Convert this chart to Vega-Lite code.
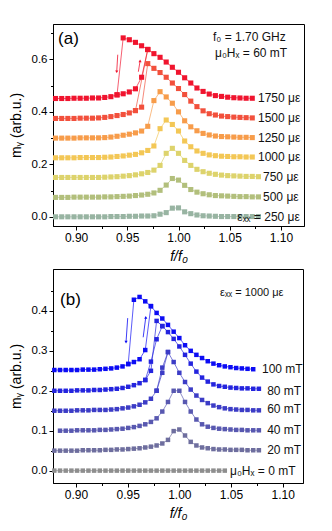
{
  "$schema": "https://vega.github.io/schema/vega-lite/v6.json",
  "padding": {"left": 8, "top": 23, "right": 0, "bottom": 0},
  "spacing": 4,
  "background": "white",
  "config": {
    "font": "Liberation Sans",
    "view": {"stroke": "#000", "strokeWidth": 1},
    "axis": {"labelFont": "Liberation Sans", "labelFontSize": 11.5, "labelColor": "#000", "titleFont": "Liberation Sans", "titleFontSize": 14, "titleFontWeight": "normal", "titleColor": "#000", "tickColor": "#000", "domainColor": "#000", "grid": false, "labelPadding": 2}
  },
  "datasets": {
    "a": [
      {"s":"250","b":"m","f":0.880,"m":0},{"s":"250","b":"m","f":0.886,"m":0},{"s":"250","b":"m","f":0.892,"m":0},{"s":"250","b":"m","f":0.898,"m":0},{"s":"250","b":"m","f":0.904,"m":0},{"s":"250","b":"m","f":0.910,"m":0},{"s":"250","b":"m","f":0.916,"m":0},{"s":"250","b":"m","f":0.922,"m":0},{"s":"250","b":"m","f":0.928,"m":0},{"s":"250","b":"m","f":0.934,"m":0.001},{"s":"250","b":"m","f":0.940,"m":0.001},{"s":"250","b":"m","f":0.946,"m":0.001},{"s":"250","b":"m","f":0.952,"m":0.002},{"s":"250","b":"m","f":0.958,"m":0.002},{"s":"250","b":"m","f":0.964,"m":0.003},{"s":"250","b":"m","f":0.970,"m":0.003},{"s":"250","b":"m","f":0.976,"m":0.004},{"s":"250","b":"m","f":0.982,"m":0.010},{"s":"250","b":"m","f":0.988,"m":0.016},{"s":"250","b":"m","f":0.994,"m":0.033},{"s":"250","b":"m","f":1.000,"m":0.034},{"s":"250","b":"m","f":1.006,"m":0.019},{"s":"250","b":"m","f":1.012,"m":0.012},{"s":"250","b":"m","f":1.018,"m":0.007},{"s":"250","b":"m","f":1.024,"m":0.004},{"s":"250","b":"m","f":1.030,"m":0.003},{"s":"250","b":"m","f":1.036,"m":0.002},{"s":"250","b":"m","f":1.042,"m":0.001},{"s":"250","b":"m","f":1.048,"m":0.001},{"s":"250","b":"m","f":1.054,"m":0.001},{"s":"250","b":"m","f":1.060,"m":0.001},{"s":"250","b":"m","f":1.066,"m":0.001},{"s":"250","b":"m","f":1.072,"m":0.001},{"s":"250","b":"m","f":1.078,"m":0.001},
      {"s":"500","b":"m","f":0.880,"m":0.074},{"s":"500","b":"m","f":0.886,"m":0.074},{"s":"500","b":"m","f":0.892,"m":0.074},{"s":"500","b":"m","f":0.898,"m":0.075},{"s":"500","b":"m","f":0.904,"m":0.075},{"s":"500","b":"m","f":0.910,"m":0.075},{"s":"500","b":"m","f":0.916,"m":0.075},{"s":"500","b":"m","f":0.922,"m":0.075},{"s":"500","b":"m","f":0.928,"m":0.076},{"s":"500","b":"m","f":0.934,"m":0.076},{"s":"500","b":"m","f":0.940,"m":0.077},{"s":"500","b":"m","f":0.946,"m":0.078},{"s":"500","b":"m","f":0.952,"m":0.079},{"s":"500","b":"m","f":0.958,"m":0.081},{"s":"500","b":"m","f":0.964,"m":0.083},{"s":"500","b":"m","f":0.970,"m":0.086},{"s":"500","b":"m","f":0.976,"m":0.091},{"s":"500","b":"m","f":0.982,"m":0.101},{"s":"500","b":"m","f":0.988,"m":0.121},{"s":"500","b":"m","f":0.994,"m":0.146},{"s":"500","b":"m","f":1.000,"m":0.140},{"s":"500","b":"m","f":1.006,"m":0.120},{"s":"500","b":"m","f":1.012,"m":0.104},{"s":"500","b":"m","f":1.018,"m":0.094},{"s":"500","b":"m","f":1.024,"m":0.088},{"s":"500","b":"m","f":1.030,"m":0.084},{"s":"500","b":"m","f":1.036,"m":0.081},{"s":"500","b":"m","f":1.042,"m":0.080},{"s":"500","b":"m","f":1.048,"m":0.079},{"s":"500","b":"m","f":1.054,"m":0.078},{"s":"500","b":"m","f":1.060,"m":0.077},{"s":"500","b":"m","f":1.066,"m":0.077},{"s":"500","b":"m","f":1.072,"m":0.076},{"s":"500","b":"m","f":1.078,"m":0.076},
      {"s":"750","b":"m","f":0.880,"m":0.150},{"s":"750","b":"m","f":0.886,"m":0.150},{"s":"750","b":"m","f":0.892,"m":0.150},{"s":"750","b":"m","f":0.898,"m":0.150},{"s":"750","b":"m","f":0.904,"m":0.150},{"s":"750","b":"m","f":0.910,"m":0.150},{"s":"750","b":"m","f":0.916,"m":0.150},{"s":"750","b":"m","f":0.922,"m":0.150},{"s":"750","b":"m","f":0.928,"m":0.151},{"s":"750","b":"m","f":0.934,"m":0.152},{"s":"750","b":"m","f":0.940,"m":0.153},{"s":"750","b":"m","f":0.946,"m":0.155},{"s":"750","b":"m","f":0.952,"m":0.157},{"s":"750","b":"m","f":0.958,"m":0.160},{"s":"750","b":"m","f":0.964,"m":0.164},{"s":"750","b":"m","f":0.970,"m":0.169},{"s":"750","b":"m","f":0.976,"m":0.178},{"s":"750","b":"m","f":0.982,"m":0.196},{"s":"750","b":"m","f":0.988,"m":0.242},{"s":"750","b":"m","f":0.994,"m":0.261},{"s":"750","b":"m","f":1.000,"m":0.242},{"s":"750","b":"m","f":1.006,"m":0.215},{"s":"750","b":"m","f":1.012,"m":0.196},{"s":"750","b":"m","f":1.018,"m":0.181},{"s":"750","b":"m","f":1.024,"m":0.172},{"s":"750","b":"m","f":1.030,"m":0.166},{"s":"750","b":"m","f":1.036,"m":0.162},{"s":"750","b":"m","f":1.042,"m":0.159},{"s":"750","b":"m","f":1.048,"m":0.157},{"s":"750","b":"m","f":1.054,"m":0.156},{"s":"750","b":"m","f":1.060,"m":0.155},{"s":"750","b":"m","f":1.066,"m":0.154},{"s":"750","b":"m","f":1.072,"m":0.154},{"s":"750","b":"m","f":1.078,"m":0.153},
      {"s":"1000","b":"m","f":0.880,"m":0.225},{"s":"1000","b":"m","f":0.886,"m":0.225},{"s":"1000","b":"m","f":0.892,"m":0.225},{"s":"1000","b":"m","f":0.898,"m":0.225},{"s":"1000","b":"m","f":0.904,"m":0.226},{"s":"1000","b":"m","f":0.910,"m":0.226},{"s":"1000","b":"m","f":0.916,"m":0.226},{"s":"1000","b":"m","f":0.922,"m":0.226},{"s":"1000","b":"m","f":0.928,"m":0.227},{"s":"1000","b":"m","f":0.934,"m":0.228},{"s":"1000","b":"m","f":0.940,"m":0.230},{"s":"1000","b":"m","f":0.946,"m":0.232},{"s":"1000","b":"m","f":0.952,"m":0.235},{"s":"1000","b":"m","f":0.958,"m":0.238},{"s":"1000","b":"m","f":0.964,"m":0.244},{"s":"1000","b":"m","f":0.970,"m":0.253},{"s":"1000","b":"m","f":0.976,"m":0.270},{"s":"1000","b":"m","f":0.982,"m":0.336},{"s":"1000","b":"m","f":0.988,"m":0.369},{"s":"1000","b":"m","f":0.994,"m":0.352},{"s":"1000","b":"m","f":1.000,"m":0.327},{"s":"1000","b":"m","f":1.006,"m":0.289},{"s":"1000","b":"m","f":1.012,"m":0.267},{"s":"1000","b":"m","f":1.018,"m":0.251},{"s":"1000","b":"m","f":1.024,"m":0.242},{"s":"1000","b":"m","f":1.030,"m":0.236},{"s":"1000","b":"m","f":1.036,"m":0.233},{"s":"1000","b":"m","f":1.042,"m":0.231},{"s":"1000","b":"m","f":1.048,"m":0.230},{"s":"1000","b":"m","f":1.054,"m":0.229},{"s":"1000","b":"m","f":1.060,"m":0.229},{"s":"1000","b":"m","f":1.066,"m":0.228},{"s":"1000","b":"m","f":1.072,"m":0.228},
      {"s":"1250","b":"m","f":0.880,"m":0.300},{"s":"1250","b":"m","f":0.886,"m":0.300},{"s":"1250","b":"m","f":0.892,"m":0.300},{"s":"1250","b":"m","f":0.898,"m":0.300},{"s":"1250","b":"m","f":0.904,"m":0.301},{"s":"1250","b":"m","f":0.910,"m":0.301},{"s":"1250","b":"m","f":0.916,"m":0.301},{"s":"1250","b":"m","f":0.922,"m":0.301},{"s":"1250","b":"m","f":0.928,"m":0.302},{"s":"1250","b":"m","f":0.934,"m":0.304},{"s":"1250","b":"m","f":0.940,"m":0.307},{"s":"1250","b":"m","f":0.946,"m":0.311},{"s":"1250","b":"m","f":0.952,"m":0.315},{"s":"1250","b":"m","f":0.958,"m":0.320},{"s":"1250","b":"m","f":0.964,"m":0.327},{"s":"1250","b":"m","f":0.970,"m":0.345},{"s":"1250","b":"m","f":0.976,"m":0.443},{"s":"1250","b":"m","f":0.982,"m":0.477},{"s":"1250","b":"m","f":0.988,"m":0.457},{"s":"1250","b":"m","f":0.994,"m":0.433},{"s":"1250","b":"m","f":1.000,"m":0.400},{"s":"1250","b":"m","f":1.006,"m":0.366},{"s":"1250","b":"m","f":1.012,"m":0.343},{"s":"1250","b":"m","f":1.018,"m":0.328},{"s":"1250","b":"m","f":1.024,"m":0.318},{"s":"1250","b":"m","f":1.030,"m":0.312},{"s":"1250","b":"m","f":1.036,"m":0.308},{"s":"1250","b":"m","f":1.042,"m":0.306},{"s":"1250","b":"m","f":1.048,"m":0.305},{"s":"1250","b":"m","f":1.054,"m":0.304},{"s":"1250","b":"m","f":1.060,"m":0.303},{"s":"1250","b":"m","f":1.066,"m":0.303},{"s":"1250","b":"m","f":1.072,"m":0.302},
      {"s":"1500","b":"m","f":0.880,"m":0.375},{"s":"1500","b":"m","f":0.886,"m":0.375},{"s":"1500","b":"m","f":0.892,"m":0.375},{"s":"1500","b":"m","f":0.898,"m":0.375},{"s":"1500","b":"m","f":0.904,"m":0.376},{"s":"1500","b":"m","f":0.910,"m":0.376},{"s":"1500","b":"m","f":0.916,"m":0.376},{"s":"1500","b":"m","f":0.922,"m":0.377},{"s":"1500","b":"m","f":0.928,"m":0.379},{"s":"1500","b":"m","f":0.934,"m":0.382},{"s":"1500","b":"m","f":0.940,"m":0.386},{"s":"1500","b":"m","f":0.946,"m":0.390},{"s":"1500","b":"m","f":0.952,"m":0.396},{"s":"1500","b":"m","f":0.958,"m":0.405},{"s":"1500","b":"m","f":0.964,"m":0.418},{"s":"1500","b":"m","f":0.970,"m":0.584},{"s":"1500","b":"m","f":0.976,"m":0.566},{"s":"1500","b":"m","f":0.982,"m":0.550},{"s":"1500","b":"m","f":0.988,"m":0.532},{"s":"1500","b":"m","f":0.994,"m":0.510},{"s":"1500","b":"m","f":1.000,"m":0.489},{"s":"1500","b":"m","f":1.006,"m":0.466},{"s":"1500","b":"m","f":1.012,"m":0.441},{"s":"1500","b":"m","f":1.018,"m":0.420},{"s":"1500","b":"m","f":1.024,"m":0.404},{"s":"1500","b":"m","f":1.030,"m":0.393},{"s":"1500","b":"m","f":1.036,"m":0.388},{"s":"1500","b":"m","f":1.042,"m":0.384},{"s":"1500","b":"m","f":1.048,"m":0.382},{"s":"1500","b":"m","f":1.054,"m":0.380},{"s":"1500","b":"m","f":1.060,"m":0.379},{"s":"1500","b":"m","f":1.066,"m":0.378},{"s":"1500","b":"m","f":1.072,"m":0.377},
      {"s":"1500","b":"r","f":0.958,"m":0.405},{"s":"1500","b":"r","f":0.970,"m":0.637},
      {"s":"1750","b":"m","f":0.880,"m":0.451},{"s":"1750","b":"m","f":0.886,"m":0.451},{"s":"1750","b":"m","f":0.892,"m":0.451},{"s":"1750","b":"m","f":0.898,"m":0.452},{"s":"1750","b":"m","f":0.904,"m":0.452},{"s":"1750","b":"m","f":0.910,"m":0.452},{"s":"1750","b":"m","f":0.916,"m":0.453},{"s":"1750","b":"m","f":0.922,"m":0.453},{"s":"1750","b":"m","f":0.928,"m":0.455},{"s":"1750","b":"m","f":0.934,"m":0.458},{"s":"1750","b":"m","f":0.940,"m":0.465},{"s":"1750","b":"m","f":0.946,"m":0.682},{"s":"1750","b":"m","f":0.952,"m":0.675},{"s":"1750","b":"m","f":0.958,"m":0.665},{"s":"1750","b":"m","f":0.964,"m":0.652},{"s":"1750","b":"m","f":0.970,"m":0.638},{"s":"1750","b":"m","f":0.976,"m":0.622},{"s":"1750","b":"m","f":0.982,"m":0.608},{"s":"1750","b":"m","f":0.988,"m":0.590},{"s":"1750","b":"m","f":0.994,"m":0.570},{"s":"1750","b":"m","f":1.000,"m":0.551},{"s":"1750","b":"m","f":1.006,"m":0.530},{"s":"1750","b":"m","f":1.012,"m":0.510},{"s":"1750","b":"m","f":1.018,"m":0.491},{"s":"1750","b":"m","f":1.024,"m":0.478},{"s":"1750","b":"m","f":1.030,"m":0.468},{"s":"1750","b":"m","f":1.036,"m":0.462},{"s":"1750","b":"m","f":1.042,"m":0.459},{"s":"1750","b":"m","f":1.048,"m":0.456},{"s":"1750","b":"m","f":1.054,"m":0.454},{"s":"1750","b":"m","f":1.060,"m":0.453},{"s":"1750","b":"m","f":1.066,"m":0.452},{"s":"1750","b":"m","f":1.072,"m":0.452},
      {"s":"1750","b":"r","f":0.940,"m":0.465},{"s":"1750","b":"r","f":0.946,"m":0.469},{"s":"1750","b":"r","f":0.952,"m":0.476},{"s":"1750","b":"r","f":0.958,"m":0.488},{"s":"1750","b":"r","f":0.964,"m":0.532},{"s":"1750","b":"r","f":0.970,"m":0.638}
    ],
    "b": [
      {"s":"0 mT","b":"m","f":0.879,"m":0},{"s":"0 mT","b":"m","f":0.8845,"m":0},{"s":"0 mT","b":"m","f":0.890,"m":0},{"s":"0 mT","b":"m","f":0.8955,"m":0},{"s":"0 mT","b":"m","f":0.901,"m":0},{"s":"0 mT","b":"m","f":0.9065,"m":0},{"s":"0 mT","b":"m","f":0.912,"m":0},{"s":"0 mT","b":"m","f":0.9175,"m":0},{"s":"0 mT","b":"m","f":0.923,"m":0},{"s":"0 mT","b":"m","f":0.9285,"m":0},{"s":"0 mT","b":"m","f":0.934,"m":0},{"s":"0 mT","b":"m","f":0.9395,"m":0},{"s":"0 mT","b":"m","f":0.945,"m":0},{"s":"0 mT","b":"m","f":0.9505,"m":0},{"s":"0 mT","b":"m","f":0.956,"m":0},{"s":"0 mT","b":"m","f":0.9615,"m":0},{"s":"0 mT","b":"m","f":0.967,"m":0},{"s":"0 mT","b":"m","f":0.9725,"m":0},{"s":"0 mT","b":"m","f":0.978,"m":0},{"s":"0 mT","b":"m","f":0.9835,"m":0},{"s":"0 mT","b":"m","f":0.989,"m":0},{"s":"0 mT","b":"m","f":0.9945,"m":0},{"s":"0 mT","b":"m","f":1.000,"m":0},{"s":"0 mT","b":"m","f":1.0055,"m":0},{"s":"0 mT","b":"m","f":1.011,"m":0},{"s":"0 mT","b":"m","f":1.0165,"m":0},{"s":"0 mT","b":"m","f":1.022,"m":0},{"s":"0 mT","b":"m","f":1.0275,"m":0},{"s":"0 mT","b":"m","f":1.033,"m":0},{"s":"0 mT","b":"m","f":1.0385,"m":0},{"s":"0 mT","b":"m","f":1.044,"m":0},
      {"s":"20 mT","b":"m","f":0.879,"m":0.050},{"s":"20 mT","b":"m","f":0.8845,"m":0.050},{"s":"20 mT","b":"m","f":0.890,"m":0.050},{"s":"20 mT","b":"m","f":0.8955,"m":0.050},{"s":"20 mT","b":"m","f":0.901,"m":0.050},{"s":"20 mT","b":"m","f":0.9065,"m":0.051},{"s":"20 mT","b":"m","f":0.912,"m":0.051},{"s":"20 mT","b":"m","f":0.9175,"m":0.051},{"s":"20 mT","b":"m","f":0.923,"m":0.051},{"s":"20 mT","b":"m","f":0.9285,"m":0.052},{"s":"20 mT","b":"m","f":0.934,"m":0.052},{"s":"20 mT","b":"m","f":0.9395,"m":0.053},{"s":"20 mT","b":"m","f":0.945,"m":0.053},{"s":"20 mT","b":"m","f":0.9505,"m":0.054},{"s":"20 mT","b":"m","f":0.956,"m":0.055},{"s":"20 mT","b":"m","f":0.9615,"m":0.056},{"s":"20 mT","b":"m","f":0.967,"m":0.058},{"s":"20 mT","b":"m","f":0.9725,"m":0.060},{"s":"20 mT","b":"m","f":0.978,"m":0.063},{"s":"20 mT","b":"m","f":0.9835,"m":0.068},{"s":"20 mT","b":"m","f":0.989,"m":0.077},{"s":"20 mT","b":"m","f":0.9945,"m":0.099},{"s":"20 mT","b":"m","f":1.000,"m":0.103},{"s":"20 mT","b":"m","f":1.0055,"m":0.088},{"s":"20 mT","b":"m","f":1.011,"m":0.072},{"s":"20 mT","b":"m","f":1.0165,"m":0.063},{"s":"20 mT","b":"m","f":1.022,"m":0.058},{"s":"20 mT","b":"m","f":1.0275,"m":0.056},{"s":"20 mT","b":"m","f":1.033,"m":0.054},{"s":"20 mT","b":"m","f":1.0385,"m":0.053},{"s":"20 mT","b":"m","f":1.044,"m":0.053},{"s":"20 mT","b":"m","f":1.0495,"m":0.052},{"s":"20 mT","b":"m","f":1.055,"m":0.052},{"s":"20 mT","b":"m","f":1.0605,"m":0.052},{"s":"20 mT","b":"m","f":1.066,"m":0.051},{"s":"20 mT","b":"m","f":1.0715,"m":0.051},{"s":"20 mT","b":"m","f":1.077,"m":0.051},
      {"s":"40 mT","b":"m","f":0.8845,"m":0.100},{"s":"40 mT","b":"m","f":0.890,"m":0.100},{"s":"40 mT","b":"m","f":0.8955,"m":0.100},{"s":"40 mT","b":"m","f":0.901,"m":0.101},{"s":"40 mT","b":"m","f":0.9065,"m":0.101},{"s":"40 mT","b":"m","f":0.912,"m":0.101},{"s":"40 mT","b":"m","f":0.9175,"m":0.101},{"s":"40 mT","b":"m","f":0.923,"m":0.102},{"s":"40 mT","b":"m","f":0.9285,"m":0.102},{"s":"40 mT","b":"m","f":0.934,"m":0.103},{"s":"40 mT","b":"m","f":0.9395,"m":0.104},{"s":"40 mT","b":"m","f":0.945,"m":0.105},{"s":"40 mT","b":"m","f":0.9505,"m":0.107},{"s":"40 mT","b":"m","f":0.956,"m":0.109},{"s":"40 mT","b":"m","f":0.9615,"m":0.112},{"s":"40 mT","b":"m","f":0.967,"m":0.116},{"s":"40 mT","b":"m","f":0.9725,"m":0.122},{"s":"40 mT","b":"m","f":0.978,"m":0.131},{"s":"40 mT","b":"m","f":0.9835,"m":0.148},{"s":"40 mT","b":"m","f":0.989,"m":0.172},{"s":"40 mT","b":"m","f":0.9945,"m":0.200},{"s":"40 mT","b":"m","f":1.000,"m":0.200},{"s":"40 mT","b":"m","f":1.0055,"m":0.172},{"s":"40 mT","b":"m","f":1.011,"m":0.148},{"s":"40 mT","b":"m","f":1.0165,"m":0.128},{"s":"40 mT","b":"m","f":1.022,"m":0.116},{"s":"40 mT","b":"m","f":1.0275,"m":0.110},{"s":"40 mT","b":"m","f":1.033,"m":0.107},{"s":"40 mT","b":"m","f":1.0385,"m":0.105},{"s":"40 mT","b":"m","f":1.044,"m":0.104},{"s":"40 mT","b":"m","f":1.0495,"m":0.103},{"s":"40 mT","b":"m","f":1.055,"m":0.102},{"s":"40 mT","b":"m","f":1.0605,"m":0.102},{"s":"40 mT","b":"m","f":1.066,"m":0.101},{"s":"40 mT","b":"m","f":1.0715,"m":0.101},{"s":"40 mT","b":"m","f":1.077,"m":0.101},
      {"s":"60 mT","b":"m","f":0.879,"m":0.150},{"s":"60 mT","b":"m","f":0.8845,"m":0.150},{"s":"60 mT","b":"m","f":0.890,"m":0.150},{"s":"60 mT","b":"m","f":0.8955,"m":0.150},{"s":"60 mT","b":"m","f":0.901,"m":0.151},{"s":"60 mT","b":"m","f":0.9065,"m":0.151},{"s":"60 mT","b":"m","f":0.912,"m":0.151},{"s":"60 mT","b":"m","f":0.9175,"m":0.152},{"s":"60 mT","b":"m","f":0.923,"m":0.152},{"s":"60 mT","b":"m","f":0.9285,"m":0.152},{"s":"60 mT","b":"m","f":0.934,"m":0.153},{"s":"60 mT","b":"m","f":0.9395,"m":0.154},{"s":"60 mT","b":"m","f":0.945,"m":0.156},{"s":"60 mT","b":"m","f":0.9505,"m":0.158},{"s":"60 mT","b":"m","f":0.956,"m":0.161},{"s":"60 mT","b":"m","f":0.9615,"m":0.165},{"s":"60 mT","b":"m","f":0.967,"m":0.171},{"s":"60 mT","b":"m","f":0.9725,"m":0.180},{"s":"60 mT","b":"m","f":0.978,"m":0.200},{"s":"60 mT","b":"m","f":0.9835,"m":0.245},{"s":"60 mT","b":"m","f":0.989,"m":0.297},{"s":"60 mT","b":"m","f":0.9945,"m":0.272},{"s":"60 mT","b":"m","f":1.000,"m":0.245},{"s":"60 mT","b":"m","f":1.0055,"m":0.222},{"s":"60 mT","b":"m","f":1.011,"m":0.203},{"s":"60 mT","b":"m","f":1.0165,"m":0.188},{"s":"60 mT","b":"m","f":1.022,"m":0.177},{"s":"60 mT","b":"m","f":1.0275,"m":0.169},{"s":"60 mT","b":"m","f":1.033,"m":0.163},{"s":"60 mT","b":"m","f":1.0385,"m":0.159},{"s":"60 mT","b":"m","f":1.044,"m":0.156},{"s":"60 mT","b":"m","f":1.0495,"m":0.154},{"s":"60 mT","b":"m","f":1.055,"m":0.153},{"s":"60 mT","b":"m","f":1.0605,"m":0.152},{"s":"60 mT","b":"m","f":1.066,"m":0.152},{"s":"60 mT","b":"m","f":1.0715,"m":0.151},{"s":"60 mT","b":"m","f":1.077,"m":0.151},
      {"s":"60 mT","b":"r","f":0.978,"m":0.200},{"s":"60 mT","b":"r","f":0.9835,"m":0.258},{"s":"60 mT","b":"r","f":0.989,"m":0.297},
      {"s":"80 mT","b":"m","f":0.879,"m":0.200},{"s":"80 mT","b":"m","f":0.8845,"m":0.200},{"s":"80 mT","b":"m","f":0.890,"m":0.200},{"s":"80 mT","b":"m","f":0.8955,"m":0.200},{"s":"80 mT","b":"m","f":0.901,"m":0.201},{"s":"80 mT","b":"m","f":0.9065,"m":0.201},{"s":"80 mT","b":"m","f":0.912,"m":0.201},{"s":"80 mT","b":"m","f":0.9175,"m":0.202},{"s":"80 mT","b":"m","f":0.923,"m":0.202},{"s":"80 mT","b":"m","f":0.9285,"m":0.203},{"s":"80 mT","b":"m","f":0.934,"m":0.204},{"s":"80 mT","b":"m","f":0.9395,"m":0.205},{"s":"80 mT","b":"m","f":0.945,"m":0.207},{"s":"80 mT","b":"m","f":0.9505,"m":0.210},{"s":"80 mT","b":"m","f":0.956,"m":0.214},{"s":"80 mT","b":"m","f":0.9615,"m":0.219},{"s":"80 mT","b":"m","f":0.967,"m":0.227},{"s":"80 mT","b":"m","f":0.9725,"m":0.250},{"s":"80 mT","b":"m","f":0.978,"m":0.375},{"s":"80 mT","b":"m","f":0.9835,"m":0.362},{"s":"80 mT","b":"m","f":0.989,"m":0.347},{"s":"80 mT","b":"m","f":0.9945,"m":0.330},{"s":"80 mT","b":"m","f":1.000,"m":0.311},{"s":"80 mT","b":"m","f":1.0055,"m":0.290},{"s":"80 mT","b":"m","f":1.011,"m":0.268},{"s":"80 mT","b":"m","f":1.0165,"m":0.248},{"s":"80 mT","b":"m","f":1.022,"m":0.233},{"s":"80 mT","b":"m","f":1.0275,"m":0.223},{"s":"80 mT","b":"m","f":1.033,"m":0.216},{"s":"80 mT","b":"m","f":1.0385,"m":0.212},{"s":"80 mT","b":"m","f":1.044,"m":0.210},{"s":"80 mT","b":"m","f":1.0495,"m":0.208},{"s":"80 mT","b":"m","f":1.055,"m":0.207},{"s":"80 mT","b":"m","f":1.0605,"m":0.206},{"s":"80 mT","b":"m","f":1.066,"m":0.206},{"s":"80 mT","b":"m","f":1.0715,"m":0.205},{"s":"80 mT","b":"m","f":1.077,"m":0.205},
      {"s":"80 mT","b":"r","f":0.967,"m":0.227},{"s":"80 mT","b":"r","f":0.9725,"m":0.273},{"s":"80 mT","b":"r","f":0.978,"m":0.329},{"s":"80 mT","b":"r","f":0.9835,"m":0.362},
      {"s":"100 mT","b":"m","f":0.879,"m":0.252},{"s":"100 mT","b":"m","f":0.8845,"m":0.252},{"s":"100 mT","b":"m","f":0.890,"m":0.252},{"s":"100 mT","b":"m","f":0.8955,"m":0.252},{"s":"100 mT","b":"m","f":0.901,"m":0.252},{"s":"100 mT","b":"m","f":0.9065,"m":0.253},{"s":"100 mT","b":"m","f":0.912,"m":0.253},{"s":"100 mT","b":"m","f":0.9175,"m":0.253},{"s":"100 mT","b":"m","f":0.923,"m":0.254},{"s":"100 mT","b":"m","f":0.9285,"m":0.255},{"s":"100 mT","b":"m","f":0.934,"m":0.256},{"s":"100 mT","b":"m","f":0.9395,"m":0.258},{"s":"100 mT","b":"m","f":0.945,"m":0.261},{"s":"100 mT","b":"m","f":0.9505,"m":0.267},{"s":"100 mT","b":"m","f":0.956,"m":0.428},{"s":"100 mT","b":"m","f":0.9615,"m":0.435},{"s":"100 mT","b":"m","f":0.967,"m":0.424},{"s":"100 mT","b":"m","f":0.9725,"m":0.412},{"s":"100 mT","b":"m","f":0.978,"m":0.395},{"s":"100 mT","b":"m","f":0.9835,"m":0.381},{"s":"100 mT","b":"m","f":0.989,"m":0.365},{"s":"100 mT","b":"m","f":0.9945,"m":0.348},{"s":"100 mT","b":"m","f":1.000,"m":0.332},{"s":"100 mT","b":"m","f":1.0055,"m":0.314},{"s":"100 mT","b":"m","f":1.011,"m":0.300},{"s":"100 mT","b":"m","f":1.0165,"m":0.290},{"s":"100 mT","b":"m","f":1.022,"m":0.282},{"s":"100 mT","b":"m","f":1.0275,"m":0.274},{"s":"100 mT","b":"m","f":1.033,"m":0.268},{"s":"100 mT","b":"m","f":1.0385,"m":0.264},{"s":"100 mT","b":"m","f":1.044,"m":0.261},{"s":"100 mT","b":"m","f":1.0495,"m":0.259},{"s":"100 mT","b":"m","f":1.055,"m":0.257},{"s":"100 mT","b":"m","f":1.0605,"m":0.256},{"s":"100 mT","b":"m","f":1.066,"m":0.255},{"s":"100 mT","b":"m","f":1.0715,"m":0.254},
      {"s":"100 mT","b":"r","f":0.9505,"m":0.267},{"s":"100 mT","b":"r","f":0.956,"m":0.272},{"s":"100 mT","b":"r","f":0.9615,"m":0.279},{"s":"100 mT","b":"r","f":0.967,"m":0.302},{"s":"100 mT","b":"r","f":0.9725,"m":0.412}
    ],
    "arrA": [
      {"s":"1750","d":"down","f":0.9407,"m":0.618,"f2":0.9397,"m2":0.553},
      {"s":"1750","d":"up","f":0.9608,"m":0.553,"f2":0.9625,"m2":0.594}
    ],
    "arrB": [
      {"s":"100 mT","d":"down","f":0.9500,"m":0.382,"f2":0.9484,"m2":0.322},
      {"s":"100 mT","d":"up","f":0.9650,"m":0.334,"f2":0.9675,"m2":0.384}
    ],
    "labA": [
      {"t":"1750 με","f":1.0776,"m":0.452},{"t":"1500 με","f":1.0776,"m":0.377},{"t":"1250 με","f":1.0776,"m":0.302},{"t":"1000 με","f":1.0776,"m":0.228},{"t":"750 με","f":1.0825,"m":0.153},{"t":"500 με","f":1.0825,"m":0.076},{"t":"εₓₓ = 250 με","f":1.0574,"m":-0.002},
      {"t":"f₀ = 1.70 GHz","f":1.0337,"m":0.687},{"t":"μ₀Hₓ = 60 mT","f":1.0356,"m":0.624}
    ],
    "tagA": [{"t":"(a)","f":0.8824,"m":0.676}],
    "labB": [
      {"t":"100 mT","f":1.0800,"m":0.255},{"t":"80 mT","f":1.0850,"m":0.200},{"t":"60 mT","f":1.0850,"m":0.155},{"t":"40 mT","f":1.0850,"m":0.102},{"t":"20 mT","f":1.0850,"m":0.052},{"t":"μ₀Hₓ = 0 mT","f":1.0490,"m":0.0}
    ],
    "topB": [{"t":"εₓₓ = 1000 με","f":1.0394,"m":0.4446}],
    "tagB": [{"t":"(b)","f":0.8845,"m":0.428}]
  },
  "vconcat": [
    {
      "width": 251, "height": 202,
      "encoding": {
        "x": {"field": "f", "type": "quantitative", "scale": {"domain": [0.8775, 1.1225], "nice": false, "zero": false},
              "axis": {"title": "f/f₀", "titleFontStyle": "italic", "titlePadding": 6, "values": [0.9,0.925,0.95,0.975,1.0,1.025,1.05,1.075,1.1], "labelFontSize": 12,
                       "labelExpr": "abs(round(datum.value*400)%20)==0 ? format(datum.value,'.2f') : ''",
                       "tickSize": {"condition": {"test": "abs(round(datum.value*400)%20)==0", "value": 4}, "value": 2.5}}},
        "y": {"field": "m", "type": "quantitative", "scale": {"domain": [-0.035, 0.735], "nice": false, "zero": false},
              "axis": {"title": "mᵧ (arb.u.)", "titlePadding": 8, "values": [0,0.1,0.2,0.3,0.4,0.5,0.6,0.7],
                       "labelExpr": "round(datum.value*10)%2==0 ? format(datum.value,'.1f') : ''",
                       "tickSize": {"condition": {"test": "round(datum.value*10)%2==0", "value": 4}, "value": 2.5}}}
      },
      "layer": [
        {"data": {"name": "a"}, "mark": {"type": "line", "strokeWidth": 0.8, "opacity": 0.85},
         "encoding": {"detail": [{"field": "s"}, {"field": "b"}],
                      "color": {"field": "s", "type": "nominal", "legend": null, "scale": {"domain": ["250","500","750","1000","1250","1500","1750","0 mT","20 mT","40 mT","60 mT","80 mT","100 mT"], "range": ["#98b4a2","#b2bf7c","#ddd36c","#f3c756","#f79c4a","#f2503c","#f0142e","#8e8e8e","#6e6e9e","#5858b0","#3c3cc6","#2424de","#0c0cf4"]}}}},
        {"data": {"name": "a"}, "mark": {"type": "point", "shape": "square", "filled": true, "size": 26, "opacity": 1},
         "encoding": {"color": {"field": "s", "type": "nominal", "legend": null}}},
        {"data": {"name": "arrA"}, "mark": {"type": "rule", "strokeWidth": 0.8},
         "encoding": {"x2": {"field": "f2"}, "y2": {"field": "m2"}, "color": {"field": "s", "type": "nominal", "legend": null}}},
        {"data": {"name": "arrA"}, "mark": {"type": "point", "filled": true, "size": 10, "opacity": 1},
         "encoding": {"x": {"field": "f2", "type": "quantitative"}, "y": {"field": "m2", "type": "quantitative"},
                      "shape": {"field": "d", "type": "nominal", "legend": null, "scale": {"domain": ["down","up"], "range": ["triangle-down","triangle-up"]}},
                      "color": {"field": "s", "type": "nominal", "legend": null}}},
        {"data": {"name": "labA"}, "mark": {"type": "text", "align": "left", "baseline": "middle", "fontSize": 12, "font": "Liberation Sans", "color": "#111"},
         "encoding": {"text": {"field": "t"}}},
        {"data": {"name": "tagA"}, "mark": {"type": "text", "align": "left", "baseline": "middle", "fontSize": 17, "font": "Liberation Sans", "color": "#000"},
         "encoding": {"text": {"field": "t"}}}
      ]
    },
    {
      "width": 250, "height": 214,
      "encoding": {
        "x": {"field": "f", "type": "quantitative", "scale": {"domain": [0.8777, 1.1197], "nice": false, "zero": false},
              "axis": {"title": "f/f₀", "titleFontStyle": "italic", "titlePadding": 6, "values": [0.9,0.925,0.95,0.975,1.0,1.025,1.05,1.075,1.1], "labelFontSize": 12,
                       "labelExpr": "abs(round(datum.value*400)%20)==0 ? format(datum.value,'.2f') : ''",
                       "tickSize": {"condition": {"test": "abs(round(datum.value*400)%20)==0", "value": 4}, "value": 2.5}}},
        "y": {"field": "m", "type": "quantitative", "scale": {"domain": [-0.031, 0.505], "nice": false, "zero": false},
              "axis": {"title": "mᵧ (arb.u.)", "titlePadding": 8, "values": [0,0.05,0.1,0.15,0.2,0.25,0.3,0.35,0.4,0.45],
                       "labelExpr": "round(datum.value*100)%10==0 ? format(datum.value,'.1f') : ''",
                       "tickSize": {"condition": {"test": "round(datum.value*100)%10==0", "value": 4}, "value": 2.5}}}
      },
      "layer": [
        {"data": {"name": "b"}, "mark": {"type": "line", "strokeWidth": 0.8, "opacity": 0.85},
         "encoding": {"detail": [{"field": "s"}, {"field": "b"}], "color": {"field": "s", "type": "nominal", "legend": null}}},
        {"data": {"name": "b"}, "mark": {"type": "point", "shape": "square", "filled": true, "size": 20, "opacity": 1},
         "encoding": {"color": {"field": "s", "type": "nominal", "legend": null}}},
        {"data": {"name": "arrB"}, "mark": {"type": "rule", "strokeWidth": 0.8},
         "encoding": {"x2": {"field": "f2"}, "y2": {"field": "m2"}, "color": {"field": "s", "type": "nominal", "legend": null}}},
        {"data": {"name": "arrB"}, "mark": {"type": "point", "filled": true, "size": 10, "opacity": 1},
         "encoding": {"x": {"field": "f2", "type": "quantitative"}, "y": {"field": "m2", "type": "quantitative"},
                      "shape": {"field": "d", "type": "nominal", "legend": null, "scale": {"domain": ["down","up"], "range": ["triangle-down","triangle-up"]}},
                      "color": {"field": "s", "type": "nominal", "legend": null}}},
        {"data": {"name": "labB"}, "mark": {"type": "text", "align": "left", "baseline": "middle", "fontSize": 12, "font": "Liberation Sans", "color": "#111"},
         "encoding": {"text": {"field": "t"}}},
        {"data": {"name": "topB"}, "mark": {"type": "text", "align": "left", "baseline": "middle", "fontSize": 11, "font": "Liberation Sans", "color": "#111"},
         "encoding": {"text": {"field": "t"}}},
        {"data": {"name": "tagB"}, "mark": {"type": "text", "align": "left", "baseline": "middle", "fontSize": 17, "font": "Liberation Sans", "color": "#000"},
         "encoding": {"text": {"field": "t"}}}
      ]
    }
  ]
}
